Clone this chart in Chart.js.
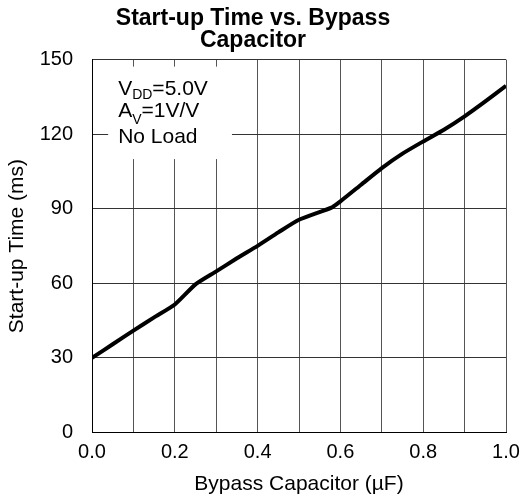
<!DOCTYPE html>
<html>
<head>
<meta charset="utf-8">
<script src="https://cdn.jsdelivr.net/npm/chart.js@4"></script>
<style>
  html, body { margin: 0; padding: 0; background: #fff; }
  #wrap { width: 523px; height: 504px; }
</style>
</head>
<body>
<div id="wrap"><canvas id="chart" width="523" height="504"></canvas></div>
<script>
// Start-up time (ms) against bypass capacitor (uF)
const capValues = [0, 0.05, 0.1, 0.15, 0.2, 0.25, 0.3, 0.35, 0.4, 0.45, 0.5, 0.58, 0.6, 0.65, 0.7, 0.75, 0.8, 0.85, 0.9, 0.95, 1.0];
const startupTimes = [30, 35.5, 41, 46.3, 51.5, 59.6, 64.8, 70.1, 75.1, 80.5, 85.6, 90.6, 93, 99.7, 106.4, 112.2, 117.1, 121.8, 127.2, 133.2, 139.5];
const xTickLabels = ['0.0', '0.2', '0.4', '0.6', '0.8', '1.0'];
const yTickLabels = [0, 30, 60, 90, 120, 150];

const FONT = "'Liberation Sans', Arial, sans-serif";

const points = capValues.map((c, i) => ({ x: c, y: startupTimes[i] }));

// conditions box in the upper left, drawn over the grid
const conditionsBox = {
    id: 'conditionsBox',
    beforeDatasetsDraw(chart) {
        const { ctx, scales: { x, y } } = chart;
        const left = x.getPixelForValue(0.039);
        const right = x.getPixelForValue(0.338);
        const top = y.getPixelForValue(147.2);
        const bottom = y.getPixelForValue(110);
        ctx.save();
        ctx.fillStyle = '#fff';
        ctx.fillRect(left, top, right - left, bottom - top);

        ctx.fillStyle = '#000';
        ctx.textBaseline = 'alphabetic';
        const tx = left + 10;
        const line = (base, sub, rest, by, subDrop) => {
            ctx.font = '21px ' + FONT;
            ctx.fillText(base, tx, by);
            let w = ctx.measureText(base).width;
            ctx.font = '14px ' + FONT;
            ctx.fillText(sub, tx + w, by + subDrop);
            w += ctx.measureText(sub).width;
            ctx.font = '21px ' + FONT;
            ctx.fillText(rest, tx + w, by);
        };
        line('V', 'DD', '=5.0V', top + 28, 4.5);
        line('A', 'V', '=1V/V', top + 50, 7);
        ctx.font = '21px ' + FONT;
        ctx.fillText('No Load', tx, top + 76);
        ctx.restore();
    }
};

new Chart(document.getElementById('chart'), {
    type: 'line',
    data: {
        datasets: [{
            data: points,
            borderColor: '#000',
            borderWidth: 4,
            pointRadius: 0,
            tension: 0.2,
            fill: false
        }]
    },
    options: {
        responsive: false,
        animation: false,
        layout: { padding: { left: 0, right: 17, top: 0, bottom: 0 } },
        plugins: {
            legend: { display: false },
            tooltip: { enabled: false },
            title: {
                display: true,
                text: ['Start-up Time vs. Bypass', 'Capacitor'],
                color: '#000',
                font: { family: FONT, size: 23, weight: 'bold', lineHeight: 0.96 },
                padding: { top: 8, bottom: 7.5 }
            }
        },
        scales: {
            x: {
                type: 'linear',
                min: 0,
                max: 1,
                afterFit: (s) => {
                    s.height = 71.5;
                    s.paddingLeft = 0;
                    s.paddingRight = 0;
                },
                border: { color: '#000', width: 1 },
                grid: { color: '#555', lineWidth: 1, drawTicks: false },
                ticks: {
                    stepSize: 0.1,
                    autoSkip: false,
                    maxRotation: 0,
                    padding: 8,
                    color: '#000',
                    font: { family: FONT, size: 20 },
                    callback: (v) => {
                        const lbl = Number(v).toFixed(1);
                        return xTickLabels.includes(lbl) ? lbl : '';
                    }
                },
                title: {
                    display: true,
                    text: 'Bypass Capacitor (\u00b5F)',
                    color: '#000',
                    font: { family: FONT, size: 21 },
                    padding: { top: 0, bottom: 7 }
                }
            },
            y: {
                min: 0,
                max: 150,
                afterFit: (s) => { s.width = 92; },
                border: { color: '#000', width: 1 },
                grid: { color: '#333', lineWidth: 1, drawTicks: false },
                ticks: {
                    stepSize: 30,
                    padding: 19,
                    color: '#000',
                    font: { family: FONT, size: 20 },
                    callback: (v) => yTickLabels.includes(v) ? String(v) : ''
                },
                title: {
                    display: true,
                    text: 'Start-up Time (ms)',
                    color: '#000',
                    font: { family: FONT, size: 21 },
                    padding: { top: 5, bottom: 0 }
                }
            }
        }
    },
    plugins: [conditionsBox]
});
</script>
</body>
</html>
